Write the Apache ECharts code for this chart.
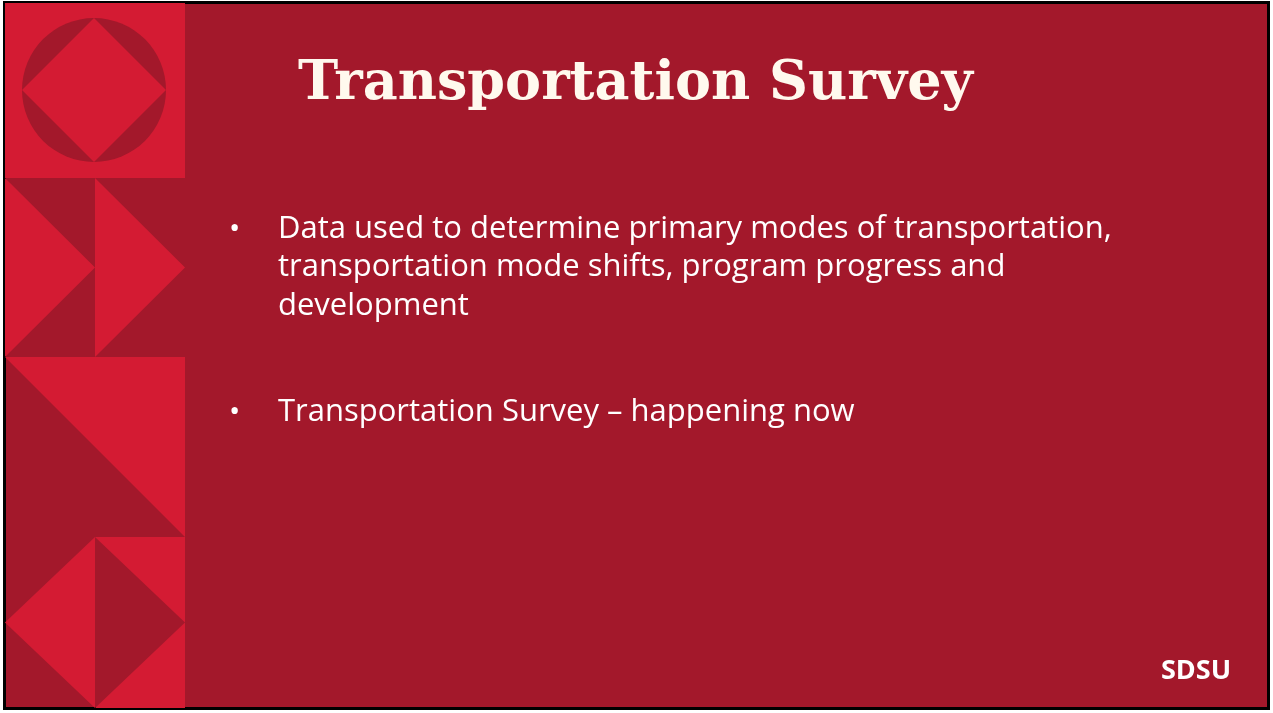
<!DOCTYPE html>
<html>
<head>
<meta charset="utf-8">
<script src="https://cdn.jsdelivr.net/npm/echarts@6/dist/echarts.min.js"></script>
<style>
  html, body { margin: 0; padding: 0; background: #fff; }
  #slide { width: 1273px; height: 713px; }
</style>
</head>
<body>
<div id="slide"></div>
<script>
// slide content
var titleText = 'Transportation Survey'
var bulletLines = [
  ['Data used to determine primary modes of transportation,',
   'transportation mode shifts, program progress and',
   'development'],
  ['Transportation Survey \u2013 happening now']
]
var bulletTops = [229, 412]
var lineGap = 38.5
var logoText = 'SDSU'

var bright = '#D41B33'
var dark = '#A3182B'

var slide_chart = echarts.init(document.getElementById('slide'))

// left decorative strip: 4 blocks, x 5..185
var sx = 5, sw = 180, mid = 95
var blocks = [3, 178, 357, 537, 708]

var graphics = []
// slide background with black frame
graphics.push({type: 'rect', shape: {x: 4.5, y: 2.5, width: 1264, height: 706},
  style: {fill: dark, stroke: '#000', lineWidth: 3}})

// block 1: bright square, dark circle, bright diamond inside
graphics.push({type: 'rect', shape: {x: sx, y: blocks[0], width: sw, height: blocks[1] - blocks[0]}, style: {fill: bright}})
graphics.push({type: 'circle', shape: {cx: 94, cy: 90, r: 72}, style: {fill: dark}})
graphics.push({type: 'polygon', shape: {points: [[94, 18], [166, 90], [94, 162], [22, 90]]}, style: {fill: bright}})

// block 2: two bright right-pointing triangles on dark
var b2t = blocks[1], b2b = blocks[2], b2m = (b2t + b2b) / 2
graphics.push({type: 'polygon', shape: {points: [[sx, b2t], [mid, b2m], [sx, b2b]]}, style: {fill: bright}})
graphics.push({type: 'polygon', shape: {points: [[mid, b2t], [sx + sw, b2m], [mid, b2b]]}, style: {fill: bright}})

// block 3: bright top-right, dark bottom-left
var b3t = blocks[2], b3b = blocks[3]
graphics.push({type: 'polygon', shape: {points: [[sx, b3t], [sx + sw, b3t], [sx + sw, b3b]]}, style: {fill: bright}})

// block 4: diamond, left half bright / right half dark, right corners bright
var b4t = blocks[3], b4b = blocks[4], b4m = (b4t + b4b) / 2
graphics.push({type: 'polygon', shape: {points: [[mid, b4t], [mid, b4b], [sx, b4m]]}, style: {fill: bright}})
graphics.push({type: 'polygon', shape: {points: [[mid, b4t], [sx + sw, b4t], [sx + sw, b4m]]}, style: {fill: bright}})
graphics.push({type: 'polygon', shape: {points: [[sx + sw, b4m], [sx + sw, b4b], [mid, b4b]]}, style: {fill: bright}})

// title
graphics.push({type: 'text', x: 298, y: 85,
  style: {text: titleText, fill: '#FFF9EE', font: 'bold 54px "DejaVu Serif"', textVerticalAlign: 'middle'}})

// bullets
for (var i = 0; i < bulletLines.length; i++) {
  graphics.push({type: 'text', x: 229, y: bulletTops[i],
    style: {text: '\u2022', fill: '#FFFFFF', font: '30px "Open Sans"', textVerticalAlign: 'middle'}})
  for (var j = 0; j < bulletLines[i].length; j++) {
    graphics.push({type: 'text', x: 278, y: bulletTops[i] + j * lineGap,
      style: {text: bulletLines[i][j], fill: '#FFFFFF', font: '31px "Open Sans"', textVerticalAlign: 'middle'}})
  }
}

// logo
graphics.push({type: 'text', x: 1196, y: 671,
  style: {text: logoText, fill: '#FFFFFF', font: 'bold 27px "Open Sans"', textAlign: 'center', textVerticalAlign: 'middle'}})

slide_chart.setOption({
  animation: false,
  graphic: graphics
})
</script>
</body>
</html>
